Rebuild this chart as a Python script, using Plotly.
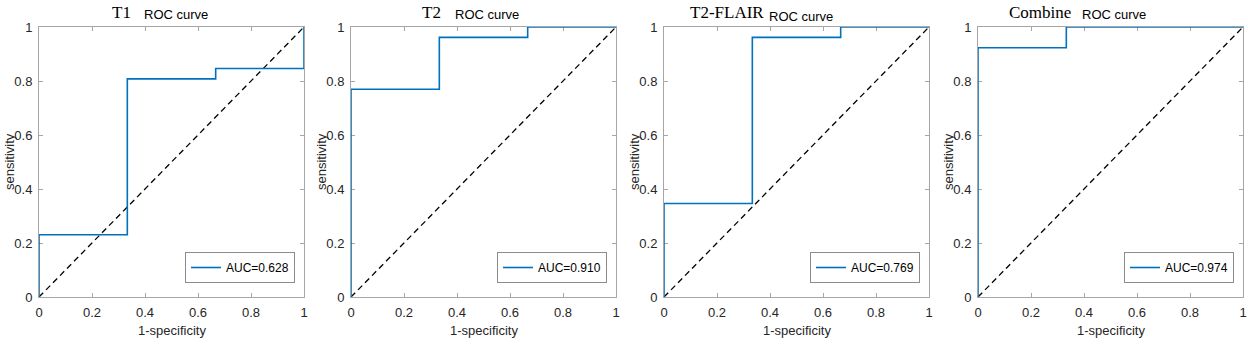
import plotly.graph_objects as go

W, H = 1248, 345

# ROC data (26 positives, 3 negatives)
panel_names = ["T1", "T2", "T2-FLAIR", "Combine"]
auc_labels = ["AUC=0.628", "AUC=0.910", "AUC=0.769", "AUC=0.974"]
t1_fpr = [0, 0, 0.3333, 0.3333, 0.6667, 0.6667, 1, 1]
t1_tpr = [0, 0.2308, 0.2308, 0.8077, 0.8077, 0.8462, 0.8462, 1]
t2_fpr = [0, 0, 0.3333, 0.3333, 0.6667, 0.6667, 1]
t2_tpr = [0, 0.7692, 0.7692, 0.9615, 0.9615, 1, 1]
flair_fpr = [0, 0, 0.3333, 0.3333, 0.6667, 0.6667, 1]
flair_tpr = [0, 0.3462, 0.3462, 0.9615, 0.9615, 1, 1]
comb_fpr = [0, 0, 0.3333, 0.3333, 1]
comb_tpr = [0, 0.9231, 0.9231, 1, 1]
diag = [0, 1]
tick_vals = [0, 0.2, 0.4, 0.6, 0.8, 1]
tick_text = ["0", "0.2", "0.4", "0.6", "0.8", "1"]

curves = [(t1_fpr, t1_tpr), (t2_fpr, t2_tpr), (flair_fpr, flair_tpr), (comb_fpr, comb_tpr)]

# layout geometry (pixels)
lefts = [39, 351, 664, 978]
pw = 265
top, bottom = 27, 297
title_main_x = [110, 420, 688, 1007]
title_sub_x = [142, 453, 767, 1080]

BLUE = "#0072BD"
FRAME = "#a6a6a6"
TXT = "#262626"
SANS = "Liberation Sans, Arial, sans-serif"
SERIF = "Liberation Serif, Times New Roman, serif"

fig = go.Figure()
layout = dict(
    width=W, height=H, margin=dict(l=0, r=0, t=0, b=0, autoexpand=False),
    paper_bgcolor="white", plot_bgcolor="white", showlegend=True,
)
annotations = []

for i in range(4):
    n = "" if i == 0 else str(i + 1)
    xa, ya = "x" + n, "y" + n
    lg = "legend" + n
    fx, fy = curves[i]
    fig.add_trace(go.Scatter(x=diag, y=diag, mode="lines", xaxis=xa, yaxis=ya,
                             line=dict(color="black", width=1.3, dash="6px,4px"),
                             showlegend=False, hoverinfo="skip"))
    fig.add_trace(go.Scatter(x=fx, y=fy, mode="lines", xaxis=xa, yaxis=ya,
                             line=dict(color=BLUE, width=1.6), name=auc_labels[i],
                             legend=lg, showlegend=True))
    x0 = lefts[i] / W
    x1 = (lefts[i] + pw) / W
    axcommon = dict(range=[0, 1], showline=True, mirror="ticks", linecolor=FRAME,
                    linewidth=1, ticks="inside", ticklen=4, tickcolor=FRAME,
                    tickvals=tick_vals, ticktext=tick_text, showgrid=False,
                    zeroline=False, layer="below traces", automargin=False,
                    tickfont=dict(family=SANS, size=13, color=TXT), fixedrange=True)
    layout["xaxis" + n] = dict(domain=[x0, x1], anchor=ya, ticklabelstandoff=3, **axcommon)
    layout["yaxis" + n] = dict(domain=[1 - bottom / H, 1 - top / H], anchor=xa,
                               ticklabelstandoff=3, **axcommon)
    layout[lg] = dict(x=(lefts[i] + pw - 9) / W, y=1 - 283 / H, xanchor="right",
                      yanchor="bottom", xref="paper", yref="paper",
                      bgcolor="white", bordercolor="#8c8c8c", borderwidth=1,
                      font=dict(family=SANS, size=12, color="black"),
                      itemwidth=30, tracegroupgap=0)
    # titles
    annotations.append(dict(x=title_main_x[i] / W, y=1 - 13 / H, xref="paper", yref="paper",
                            xanchor="left", yanchor="middle", showarrow=False,
                            text=panel_names[i], font=dict(family=SERIF, size=17, color="black")))
    sub_y = 16 if i == 2 else 14
    annotations.append(dict(x=title_sub_x[i] / W, y=1 - sub_y / H, xref="paper", yref="paper",
                            xanchor="left", yanchor="middle", showarrow=False,
                            text="ROC curve", font=dict(family=SANS, size=13, color="black")))
    # axis titles
    annotations.append(dict(x=(lefts[i] + pw / 2) / W, y=1 - 330 / H, xref="paper", yref="paper",
                            xanchor="center", yanchor="middle", showarrow=False,
                            text="1-specificity", font=dict(family=SANS, size=13, color=TXT)))
    annotations.append(dict(x=(lefts[i] - 29) / W, y=1 - 162 / H, xref="paper", yref="paper",
                            xanchor="center", yanchor="middle", showarrow=False, textangle=-90,
                            text="sensitivity", font=dict(family=SANS, size=13, color=TXT)))

layout["annotations"] = annotations
fig.update_layout(**layout)
fig.write_html("out.html", config={"displayModeBar": False},
               post_script="document.body.style.margin='0';document.body.style.overflow='hidden';")
